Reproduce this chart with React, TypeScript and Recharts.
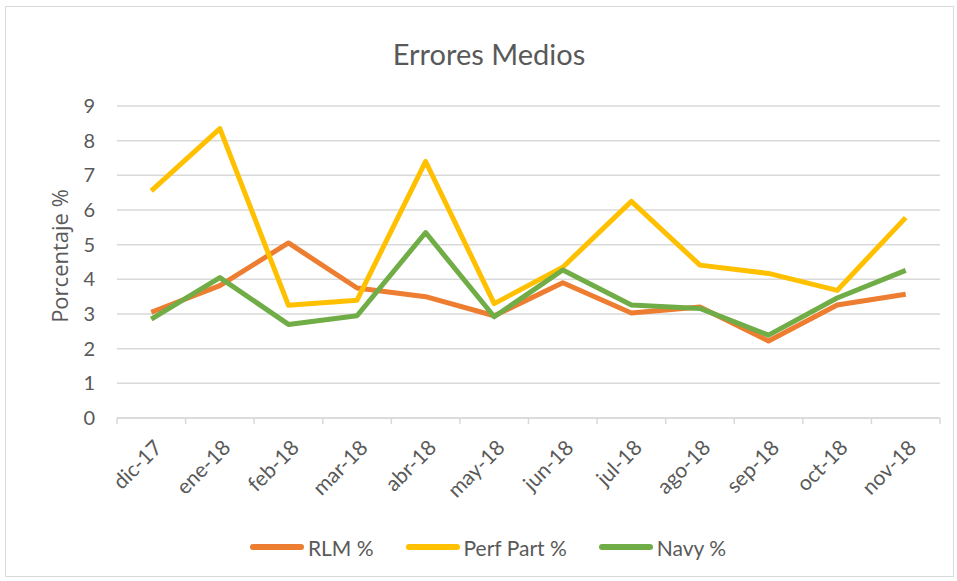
import { LineChart, Line, XAxis, YAxis, CartesianGrid, Legend } from "recharts";

const months = [
  "dic-17", "ene-18", "feb-18", "mar-18", "abr-18", "may-18",
  "jun-18", "jul-18", "ago-18", "sep-18", "oct-18", "nov-18",
];
const rlm = [3.05, 3.82, 5.05, 3.75, 3.5, 2.95, 3.9, 3.03, 3.2, 2.22, 3.26, 3.57];
const perfPart = [6.55, 8.35, 3.25, 3.4, 7.4, 3.3, 4.35, 6.25, 4.41, 4.17, 3.68, 5.78];
const navy = [2.85, 4.05, 2.7, 2.95, 5.35, 2.92, 4.27, 3.26, 3.16, 2.39, 3.46, 4.26];
const yTicks = [0, 1, 2, 3, 4, 5, 6, 7, 8, 9];

const series = [
  { key: "rlm", name: "RLM %", color: "#ED7D31" },
  { key: "perf", name: "Perf Part %", color: "#FFC000" },
  { key: "navy", name: "Navy %", color: "#70AD47" },
];

const data = months.map((m, i) => ({ month: m, rlm: rlm[i], perf: perfPart[i], navy: navy[i] }));

const W = 957;
const H = 581;
const PLOT_LEFT = 117;
const PLOT_RIGHT = 940;
const STEP = (PLOT_RIGHT - PLOT_LEFT) / months.length;
const FONT = "Lato, 'Open Sans', sans-serif";
const TEXT = "#595959";
const GRID = "#d9d9d9";

function MonthTick(props: any) {
  const { x, y, payload, index } = props;
  const left = x - STEP / 2;
  return (
    <g>
      <line x1={left} y1={y} x2={left} y2={y + 6} stroke={GRID} strokeWidth={1.5} />
      {index === months.length - 1 && (
        <line x1={x + STEP / 2} y1={y} x2={x + STEP / 2} y2={y + 6} stroke={GRID} strokeWidth={1.5} />
      )}
      <text
        x={x + 12}
        y={y + 31}
        transform={`rotate(-45, ${x + 12}, ${y + 31})`}
        textAnchor="end"
        fill={TEXT}
        fontSize={21}
        fontFamily={FONT}
      >
        {payload.value}
      </text>
    </g>
  );
}

function LegendContent() {
  return (
    <div
      style={{
        height: 40,
        display: "flex",
        justifyContent: "center",
        alignItems: "center",
        gap: 32,
        fontFamily: FONT,
        fontSize: 21,
        color: TEXT,
        paddingLeft: 36,
      }}
    >
      {series.map((s) => (
        <div key={s.key} style={{ display: "flex", alignItems: "center" }}>
          <span
            style={{
              display: "inline-block",
              width: 54,
              height: 6,
              borderRadius: 3,
              background: s.color,
              marginRight: 4,
            }}
          />
          <span>{s.name}</span>
        </div>
      ))}
    </div>
  );
}

export default function App() {
  return (
    <div style={{ position: "absolute", left: 0, top: 0, width: W, height: H, background: "#fff" }}>
      <div
        style={{
          position: "absolute",
          left: 5,
          top: 6,
          width: W - 8,
          height: H - 10,
          border: "1px solid #d9d9d9",
          boxSizing: "border-box",
        }}
      />
      <div
        style={{
          position: "absolute",
          left: 0,
          top: 36,
          width: 978,
          textAlign: "center",
          fontFamily: FONT,
          fontSize: 29,
          color: TEXT,
        }}
      >
        Errores Medios
      </div>
      <div
        style={{
          position: "absolute",
          left: 59,
          top: 256,
          transform: "translate(-50%, -50%) rotate(-90deg)",
          fontFamily: "'Open Sans', sans-serif",
          fontSize: 22,
          color: TEXT,
          whiteSpace: "nowrap",
        }}
      >
        Porcentaje %
      </div>
      <div style={{ position: "absolute", left: 0, top: 0 }}>
        <LineChart width={W} height={H} data={data} margin={{ top: 106, right: W - PLOT_RIGHT, bottom: 14, left: 0 }}>
          <CartesianGrid vertical={false} stroke={GRID} strokeWidth={1.5} />
          <XAxis
            dataKey="month"
            height={109}
            padding={{ left: STEP / 2, right: STEP / 2 }}
            axisLine={{ stroke: GRID, strokeWidth: 1.5 }}
            tickLine={false}
            tickSize={0}
            tickMargin={0}
            interval={0}
            tick={<MonthTick />}
          />
          <YAxis
            width={PLOT_LEFT}
            domain={[0, 9]}
            ticks={yTicks}
            axisLine={false}
            tickLine={false}
            tickSize={0}
            tickMargin={22}
            tick={{ fill: TEXT, fontSize: 20, fontFamily: FONT }}
          />
          <Legend verticalAlign="bottom" content={<LegendContent />} />
          {series.map((s) => (
            <Line
              key={s.key}
              dataKey={s.key}
              name={s.name}
              stroke={s.color}
              strokeWidth={5}
              dot={false}
              type="linear"
              strokeLinejoin="round"
              isAnimationActive={false}
            />
          ))}
        </LineChart>
      </div>
    </div>
  );
}
